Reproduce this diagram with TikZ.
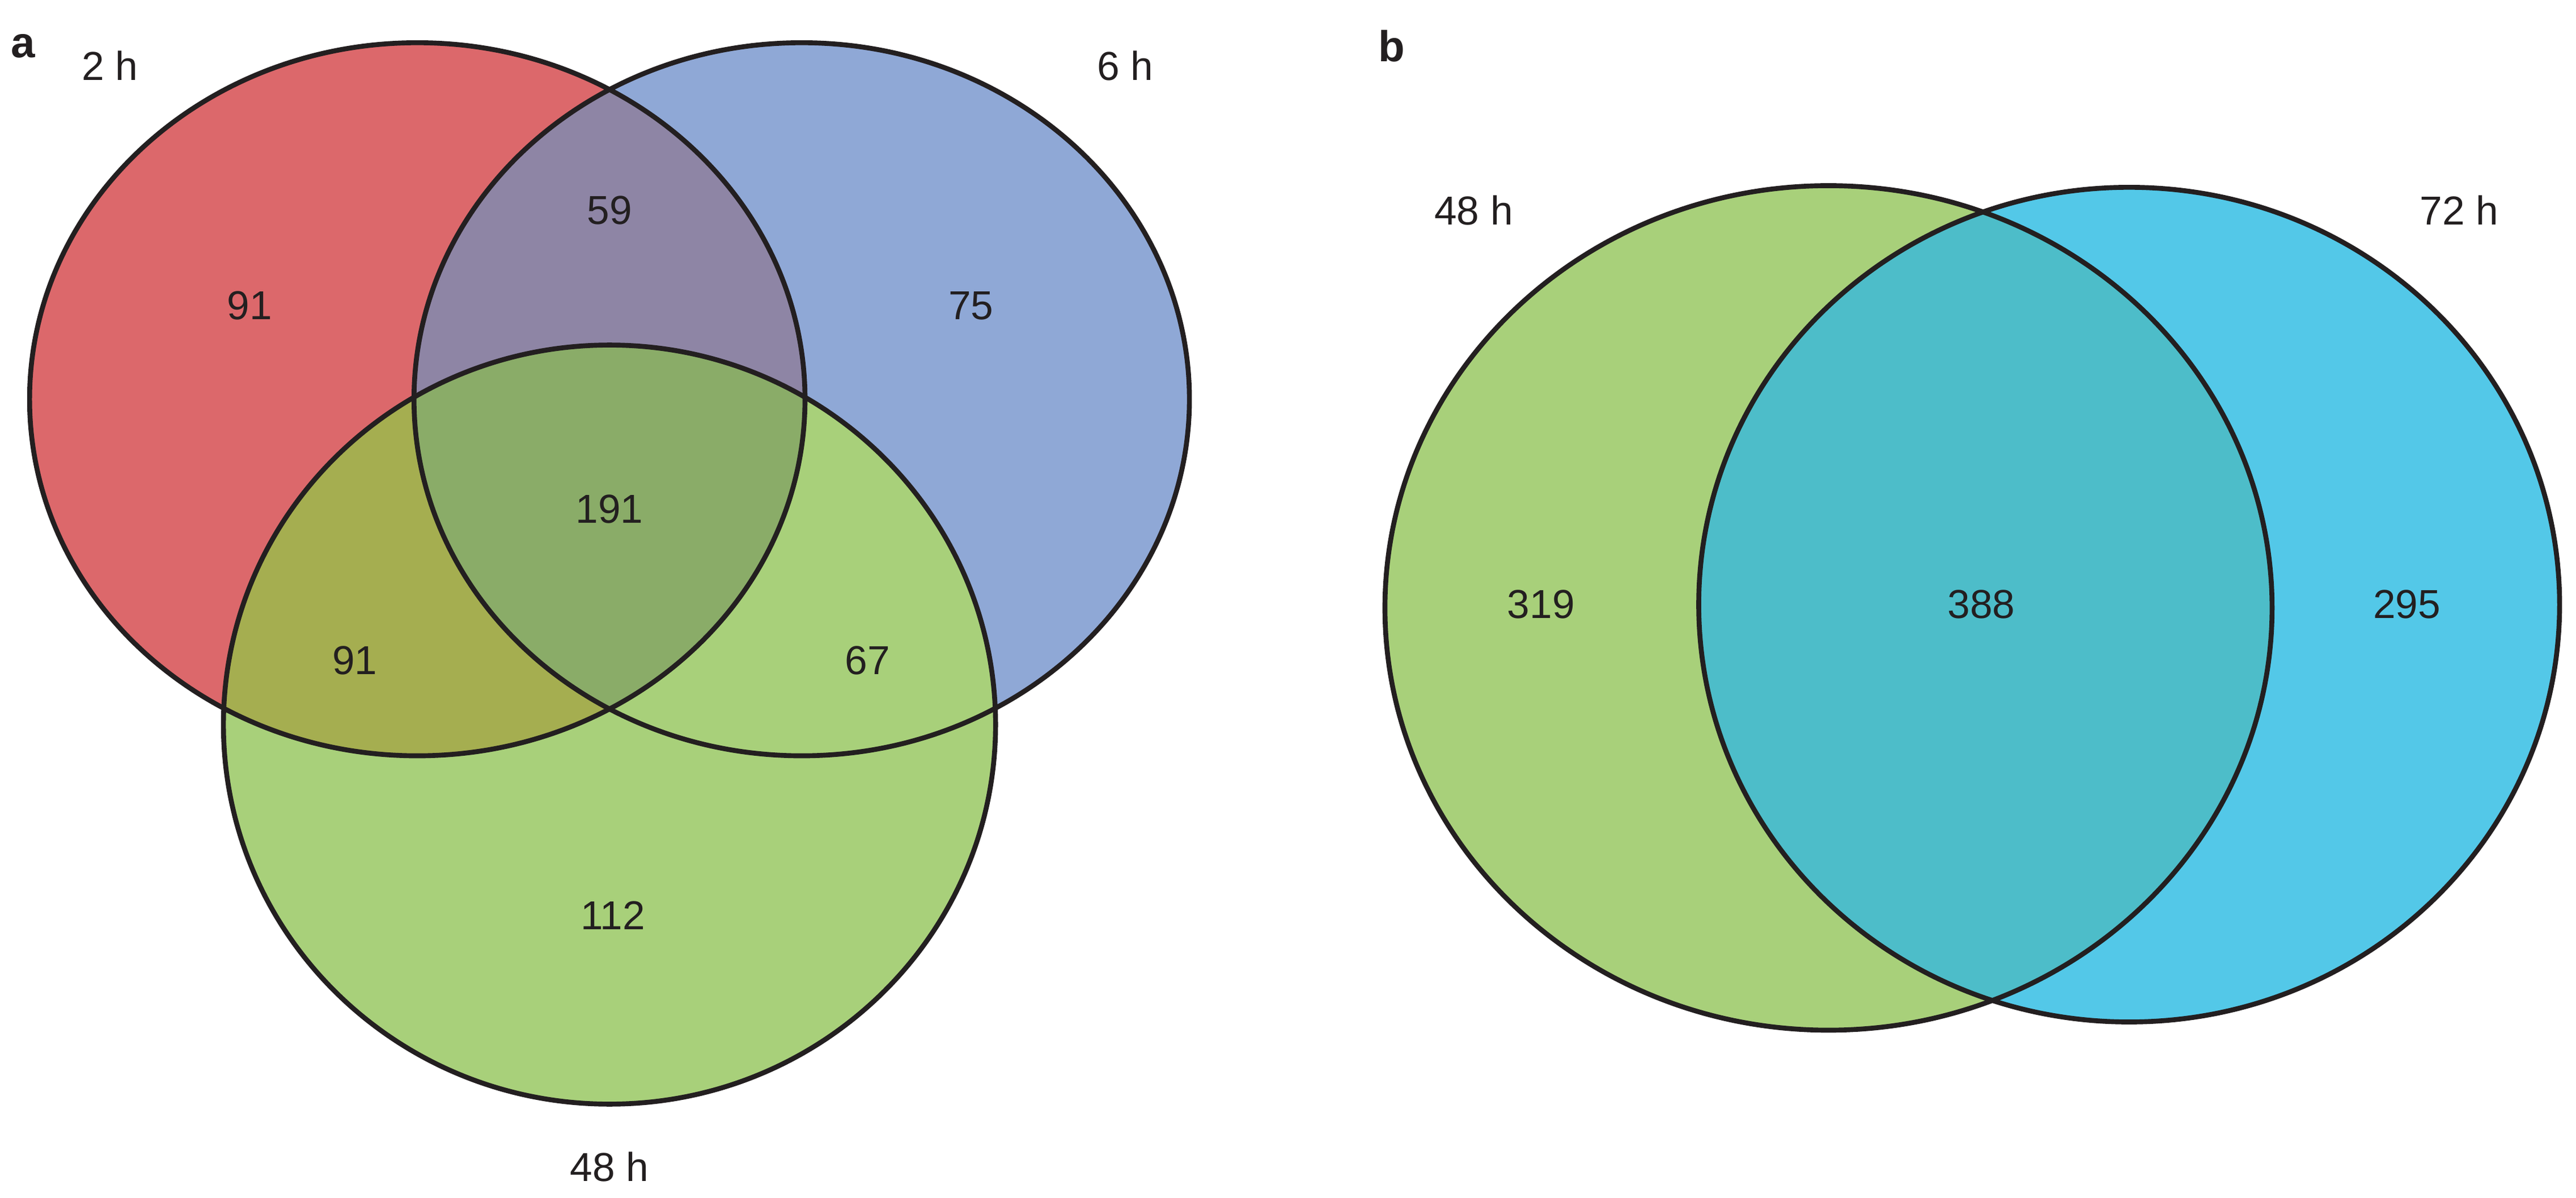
\documentclass[tikz,border=0pt]{standalone}
\usepackage{fontspec}
\setmainfont{Liberation Sans}
\definecolor{cR}{HTML}{DC686B}
\definecolor{cB}{HTML}{8FA8D6}
\definecolor{cG}{HTML}{A8D07A}
\definecolor{cRB}{HTML}{8E85A5}
\definecolor{cRG}{HTML}{A5AE50}
\definecolor{cBG}{HTML}{88BA72}
\definecolor{cRBG}{HTML}{8AAC68}
\definecolor{cC}{HTML}{53C8E8}
\definecolor{cCG}{HTML}{4DBDC9}
\definecolor{ln}{HTML}{231F20}
\begin{document}
\begin{tikzpicture}[x=0.02cm,y=-0.02cm,
  lab/.style={font=\fontsize{14}{16}\selectfont,text=ln},
  edge/.style={draw=ln,line width=1.7pt}]
\useasboundingbox (0,0) rectangle (1568,729);
\def\Ra{(254,243) ellipse [x radius=236,y radius=217]}
\def\Ba{(488,243) ellipse [x radius=236,y radius=217]}
\def\Ga{(371,441) ellipse [x radius=235,y radius=231]}
\fill[cR] \Ra; \fill[cB] \Ba; \fill[cG] \Ga;
\begin{scope}\clip \Ra; \fill[cRB] \Ba; \fill[cRG] \Ga; \clip \Ba; \fill[cRBG] \Ga; \end{scope}
\begin{scope}\clip \Ba; \clip \Ga; \fill[cBG] \Ra; \end{scope}
\begin{scope}\clip \Ba; \clip \Ga; \clip \Ra; \fill[cRBG] \Ra; \end{scope}
\begin{scope}\clip \Ra; \clip \Ba; \clip \Ga; \fill[cRBG] (0,0) rectangle (800,729); \end{scope}
\draw[edge] \Ra; \draw[edge] \Ba; \draw[edge] \Ga;
\def\Gb{(1113,370) ellipse [x radius=270,y radius=257]}
\def\Cb{(1296,368) ellipse [x radius=262,y radius=254]}
\fill[cG] \Gb; \fill[cC] \Cb;
\begin{scope}\clip \Gb; \fill[cCG] \Cb; \end{scope}
\draw[edge] \Gb; \draw[edge] \Cb;
\node[lab,font=\fontsize{15}{17}\selectfont\bfseries] (pa) at (14,28) {a};
\node[lab,font=\fontsize{15}{17}\selectfont\bfseries] (pb) at (847,28) {b};
\node[lab] (t1) at (67,40) {2 h};
\node[lab] (t2) at (685,40) {6 h};
\node[lab] (t3) at (371,710) {48 h};
\node[lab] (t4) at (897,128) {48 h};
\node[lab] (t5) at (1497,128) {72 h};
\node[lab] (n1) at (152,186) {91};
\node[lab] (n2) at (371,128) {59};
\node[lab] (n3) at (591,186) {75};
\node[lab] (n4) at (371,310) {191};
\node[lab] (n5) at (216,402) {91};
\node[lab] (n6) at (528,402) {67};
\node[lab] (n7) at (373,557) {112};
\node[lab] (n8) at (938,368) {319};
\node[lab] (n9) at (1206,368) {388};
\node[lab] (n10) at (1465,368) {295};
\end{tikzpicture}
\end{document}
